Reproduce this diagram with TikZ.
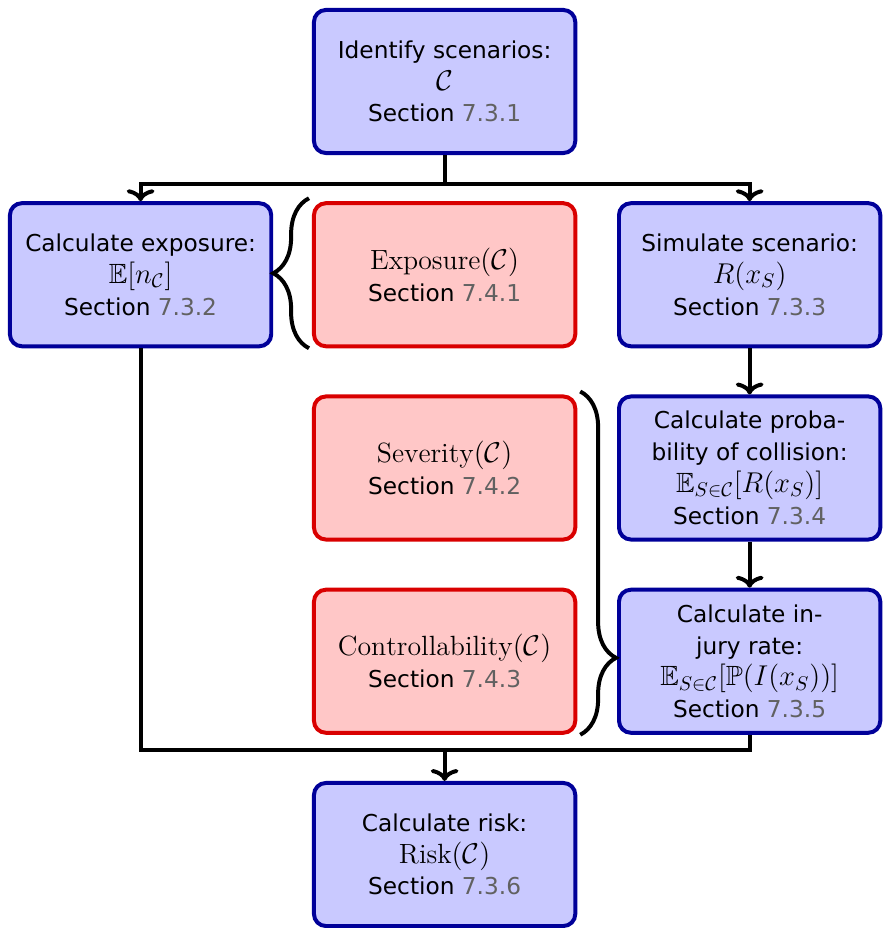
\documentclass[tikz,border=0pt]{standalone}
\usepackage{amsmath,amssymb}
\usepackage{fontspec}
\setsansfont{DejaVu Sans}
\usetikzlibrary{arrows.meta, positioning, calc, decorations.pathreplacing}

\newcommand{\secref}[1]{Section \textcolor{black!62}{#1}}
\newcommand{\formula}[1]{{\fontsize{14}{16}\selectfont$#1$}}

\begin{document}
\begin{tikzpicture}[
    >={Computer Modern Rightarrow[length=6pt, width=14pt]},
    node distance=23.25pt and 19.5pt,
    font=\sffamily\fontsize{11.7}{16}\selectfont,
    stepbox/.style={rectangle, rounded corners=6pt, line width=2pt, align=center, minimum width=131.5pt, minimum height=72pt, inner sep=2pt},
    calc/.style={stepbox, draw=blue!60!black, fill=blue!21},
    asil/.style={stepbox, draw=red!85!black, fill=red!22},
    link/.style={line width=2pt},
    line/.style={link, ->},
    brace/.style={decorate, decoration={brace, amplitude=18pt, #1}, line width=2pt},
    brace/.default={aspect=0.5}
]

\node[calc] (scenarios) {Identify scenarios:\\ \formula{\mathcal{C}}\\ \secref{7.3.1}};
\node[asil, below=of scenarios] (exposure) {\formula{\mathrm{Exposure}(\mathcal{C})}\\ \secref{7.4.1}};
\node[calc, left=of exposure] (calcexp) {Calculate exposure:\\ \formula{\mathbb{E}[n_{\mathcal{C}}]}\\ \secref{7.3.2}};
\node[calc, right=20pt of exposure] (simulate) {Simulate scenario:\\ \formula{R(x_S)}\\ \secref{7.3.3}};

\node[asil, below=of exposure] (severity) {\formula{\mathrm{Severity}(\mathcal{C})}\\ \secref{7.4.2}};
\node[asil, below=of severity] (control) {\formula{\mathrm{Controllability}(\mathcal{C})}\\ \secref{7.4.3}};
\node[calc, below=of simulate] (collision) {Calculate proba-\\bility of collision:\\ \formula{\mathbb{E}_{S\in\mathcal{C}}[R(x_S)]}\\ \secref{7.3.4}};
\node[calc, below=of collision] (injury) {Calculate in-\\jury rate:\\ \formula{\mathbb{E}_{S\in\mathcal{C}}[\mathbb{P}(I(x_S))]}\\ \secref{7.3.5}};
\node[calc, below=of control] (risk) {Calculate risk:\\ \formula{\mathrm{Risk}(\mathcal{C})}\\ \secref{7.3.6}};

\coordinate (split) at ($(scenarios.south)!0.625!(exposure.north)$);
\coordinate (merge) at ($(control.south)!0.33!(risk.north)$);

\draw[link] (scenarios.south) -- (split);
\draw[line] (split) -| (calcexp.north);
\draw[line] (split) -| (simulate.north);
\draw[line] (simulate) -- (collision);
\draw[line] (collision) -- (injury);
\draw[link] (calcexp.south) |- (injury.south |- merge) -- (injury.south);
\draw[line] (merge) -- (risk.north);

% braces grouping the ASIL factors
\draw[brace] ($(exposure.south west)+(-1.5pt,0)$) -- ($(exposure.north west)+(-1.5pt,1.5pt)$);
\draw[brace={aspect=0.776}] ($(severity.north east)+(1.5pt,1.5pt)$) -- ($(control.south east)+(1.5pt,0)$);

\useasboundingbox ($(calcexp.west |- scenarios.north)+(-4pt,4pt)$) rectangle ($(simulate.west |- risk.north)+(131pt,-71.5pt)$);
\end{tikzpicture}
\end{document}
